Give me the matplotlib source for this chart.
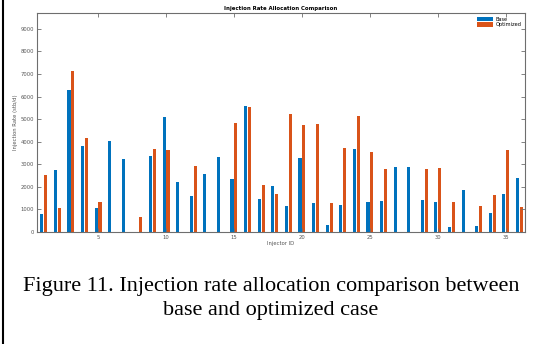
import matplotlib
matplotlib.use('Agg')
import matplotlib.pyplot as plt
import numpy as np

## Data (stb/d)
injector_ids = np.arange(1, 37)
base = [790, 2730, 6280, 3800, 1040, 4050, 3220, 0, 3350, 5100,
        2200, 1600, 2580, 3330, 2360, 5590, 1450, 2040, 1150, 3270,
        1280, 290, 1170, 3660, 1310, 1370, 2870, 2870, 1400, 1310,
        230, 1850, 240, 820, 1660, 2380]
optimized = [2530, 1070, 7140, 4140, 1340, 0, 0, 680, 3690, 3610,
             0, 2940, 0, 0, 4820, 5540, 2070, 1670, 5220, 4740,
             4760, 1280, 3720, 5150, 3550, 2790, 0, 0, 2780, 2850,
             1340, 0, 1150, 1630, 3650, 1090]
x_ticks = [5, 10, 15, 20, 25, 30, 35]
y_ticks = np.arange(0, 10000, 1000)

## Colors (MATLAB defaults)
colors = {
    "Base": "#0072BD",
    "Optimized": "#D95319",
}

fig = plt.figure(figsize=(5.35, 3.44), dpi=100)
ax = fig.add_axes([0.069, 0.326, 0.912, 0.636])

width = 0.229
ax.bar(injector_ids - 0.143, base, width=width, color=colors["Base"], label="Base")
ax.bar(injector_ids + 0.143, optimized, width=width, color=colors["Optimized"], label="Optimized")

ax.set_xlim(0.5, 36.4)
ax.set_ylim(0, 9700)
ax.set_xticks(x_ticks)
ax.set_yticks(y_ticks)

axis_color = '#6e6e6e'
for spine in ax.spines.values():
    spine.set_color(axis_color)
    spine.set_linewidth(0.8)
ax.tick_params(direction='in', length=3, width=0.6, color=axis_color,
               labelsize=3.8, labelcolor='#555555', top=True, right=True, pad=2)

ax.set_title("Injection Rate Allocation Comparison", fontsize=3.9, fontweight='bold', pad=2)
ax.set_xlabel("Injector ID", fontsize=3.8, color='#555555', labelpad=1)
ax.set_ylabel("Injection Rate (stb/d)", fontsize=3.8, color='#555555', labelpad=2)

ax.legend(loc='upper right', frameon=False, fontsize=3.6, handlelength=3.3,
          handleheight=1.0, borderaxespad=0.3, labelspacing=0.1, handletextpad=0.4)

# caption under the chart
fig.text(271 / 535, 1 - 287 / 344, "Figure 11. Injection rate allocation comparison between",
         ha='center', va='center', fontsize=16, family='Liberation Serif')
fig.text(271 / 535, 1 - 311 / 344, "base and optimized case",
         ha='center', va='center', fontsize=16, family='Liberation Serif')

# left page border
fig.add_artist(plt.Line2D([2.5 / 535, 2.5 / 535], [0, 1], color='black', linewidth=1.5,
                          transform=fig.transFigure))

plt.savefig("out.png", dpi=100)
plt.close()
